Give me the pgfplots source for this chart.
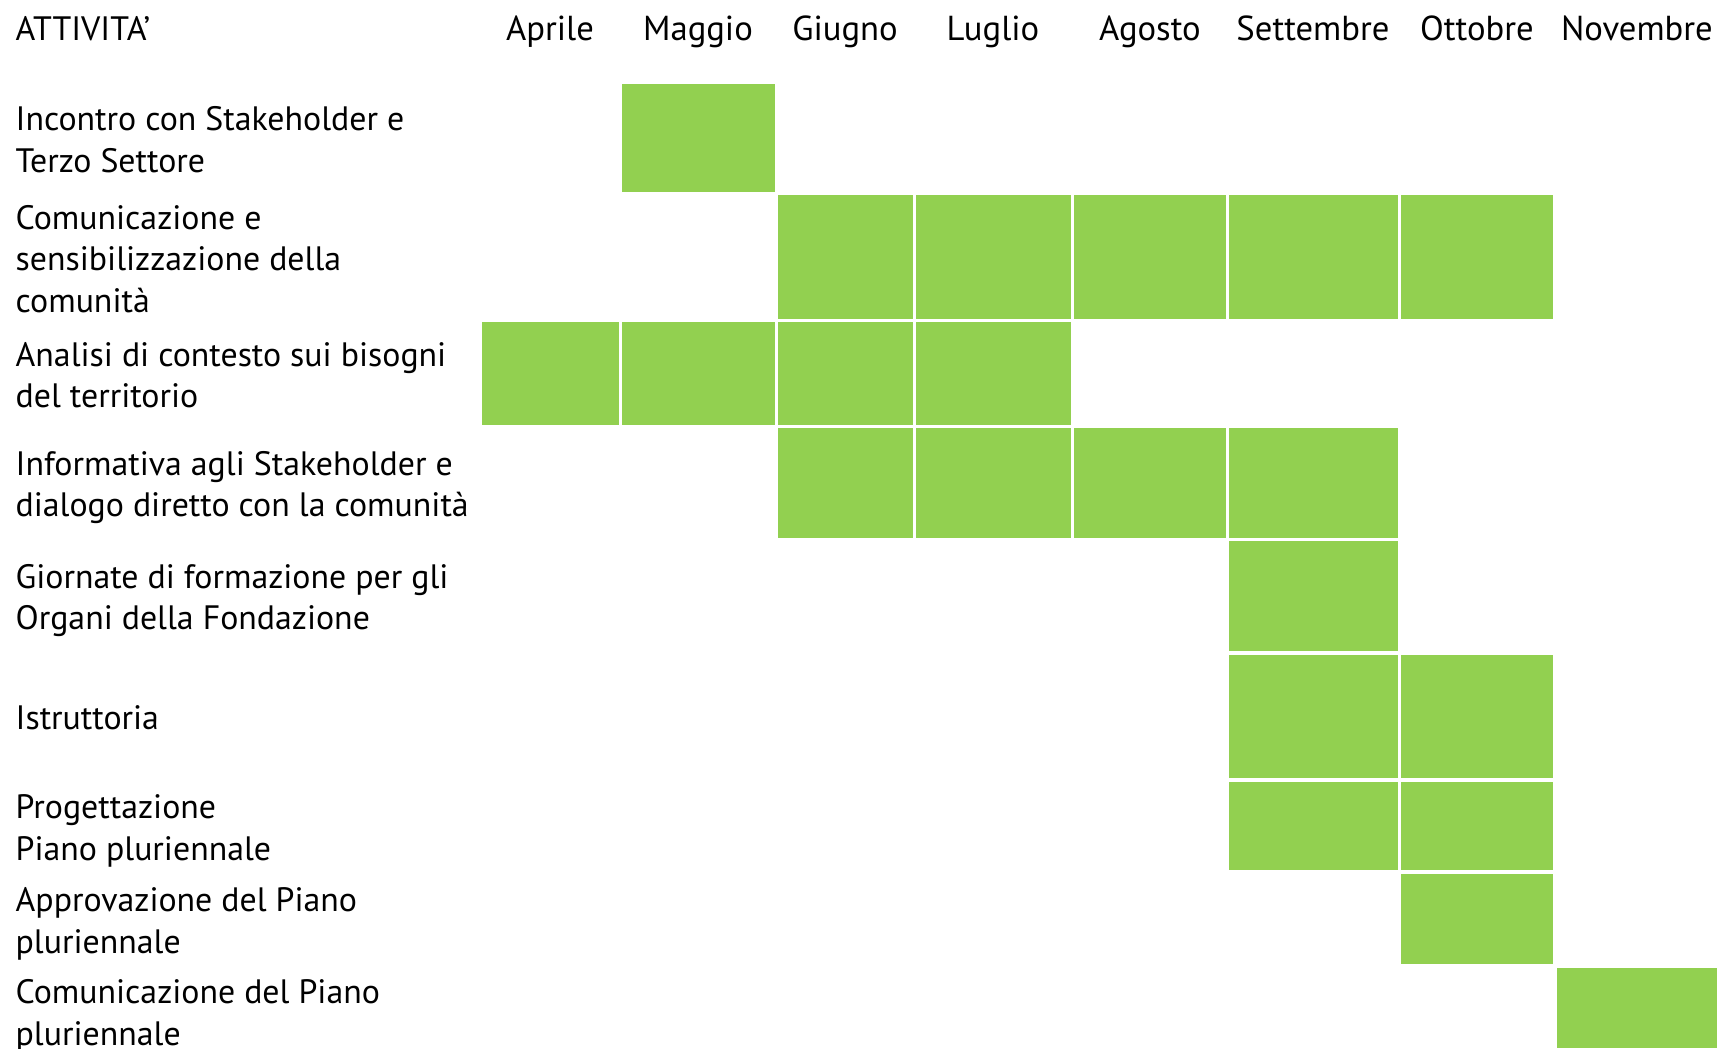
\documentclass[border=0pt]{standalone}
\usepackage{fontspec}
\setmainfont{PT Sans}
\usepackage{pgfplots}
\pgfplotsset{compat=1.18}
\definecolor{cellgreen}{RGB}{146,208,80}
% one Gantt cell: left, right, top, bottom (pixel units of the reference)
\newcommand{\cell}[4]{\addplot[draw=none,fill=cellgreen] coordinates {(#1,#3) (#2,#3) (#2,#4) (#1,#4)};}
\newcommand{\lab}[3]{\node[anchor=base west,inner sep=0pt,font=\fontsize{10.15}{11}\selectfont] at (axis cs:#1,#2) {#3};}
\newcommand{\mon}[3]{\node[anchor=base,inner sep=0pt,font=\fontsize{10.4}{11}\selectfont] at (axis cs:#1,#2) {#3};}
\begin{document}
\begin{tikzpicture}
\begin{axis}[name=ax,
  scale only axis, width=515.1pt, height=314.4pt,
  xmin=0, xmax=1717, ymin=0, ymax=1048, y dir=reverse,
  hide axis, clip=false]
% columns: Apr 482-619, Mag 622-775, Giu 778-913, Lug 916-1071, Ago 1074-1226, Set 1229-1398, Ott 1401-1553, Nov 1557-1717
% Row 1: Incontro con Stakeholder e Terzo Settore
\cell{622}{775}{84}{192}
% Row 2: Comunicazione e sensibilizzazione
\cell{778}{913}{195}{319}
\cell{916}{1071}{195}{319}
\cell{1074}{1226}{195}{319}
\cell{1229}{1398}{195}{319}
\cell{1401}{1553}{195}{319}
% Row 3: Analisi di contesto
\cell{482}{619}{322}{425}
\cell{622}{775}{322}{425}
\cell{778}{913}{322}{425}
\cell{916}{1071}{322}{425}
% Row 4: Informativa agli Stakeholder
\cell{778}{913}{428}{538}
\cell{916}{1071}{428}{538}
\cell{1074}{1226}{428}{538}
\cell{1229}{1398}{428}{538}
% Row 5: Giornate di formazione
\cell{1229}{1398}{541}{651}
% Row 6: Istruttoria
\cell{1229}{1398}{655}{778}
\cell{1401}{1553}{655}{778}
% Row 7: Progettazione
\cell{1229}{1398}{782}{870}
\cell{1401}{1553}{782}{870}
% Row 8: Approvazione
\cell{1401}{1553}{874}{964}
% Row 9: Comunicazione del Piano
\cell{1557}{1717}{968}{1048}
% header
\lab{15}{40}{ATTIVITA’}
\mon{550}{40}{Aprile}
\mon{698}{40}{Maggio}
\mon{845}{40}{Giugno}
\mon{993}{40}{Luglio}
\mon{1150}{40}{Agosto}
\mon{1313}{40}{Settembre}
\mon{1477}{40}{Ottobre}
\mon{1637}{40}{Novembre}
% activity labels
\lab{15}{130}{Incontro con Stakeholder e}
\lab{15}{172}{Terzo Settore}
\lab{15}{229}{Comunicazione e}
\lab{15}{270}{sensibilizzazione della}
\lab{15}{312}{comunità}
\lab{15}{366}{Analisi di contesto sui bisogni}
\lab{15}{407}{del territorio}
\lab{15}{475}{Informativa agli Stakeholder e}
\lab{15}{516}{dialogo diretto con la comunità}
\lab{15}{588}{Giornate di formazione per gli}
\lab{15}{629}{Organi della Fondazione}
\lab{15}{729}{Istruttoria}
\lab{15}{818}{Progettazione}
\lab{15}{860}{Piano pluriennale}
\lab{15}{911}{Approvazione del Piano}
\lab{15}{953}{pluriennale}
\lab{15}{1003}{Comunicazione del Piano}
\lab{15}{1045}{pluriennale}
\end{axis}
\pgfresetboundingbox
\path[use as bounding box] (ax.south west) rectangle (ax.north east);
\end{tikzpicture}
\end{document}
